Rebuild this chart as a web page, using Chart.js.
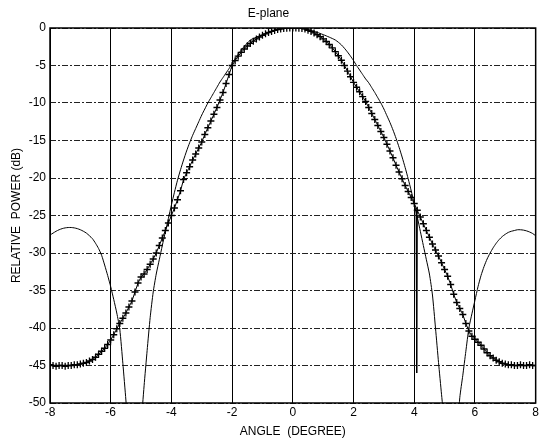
<!DOCTYPE html>
<html>
<head>
<meta charset="utf-8">
<title>E-plane</title>
<script src="https://cdn.jsdelivr.net/npm/chart.js@4.4.1/dist/chart.umd.min.js"></script>
<style>
    html, body {margin: 0; padding: 0; background: #fff;}
    #wrap {width: 541px; height: 441px;}
</style>
</head>
<body>
<div id="wrap"><canvas id="chart" width="541" height="441"></canvas></div>
<script>
const angles = [
    -8.0, -7.9, -7.8, -7.7, -7.6, -7.5, -7.4, -7.3, -7.2, -7.1,
    -7.0, -6.9, -6.8, -6.7, -6.6, -6.5, -6.4, -6.3, -6.2, -6.1,
    -6.0, -5.9, -5.8, -5.7, -5.6, -5.5, -5.4, -5.3, -5.2, -5.1,
    -5.0, -4.9, -4.8, -4.7, -4.6, -4.5, -4.4, -4.3, -4.2, -4.1,
    -4.0, -3.9, -3.8, -3.7, -3.6, -3.5, -3.4, -3.3, -3.2, -3.1,
    -3.0, -2.9, -2.8, -2.7, -2.6, -2.5, -2.4, -2.3, -2.2, -2.1,
    -2.0, -1.9, -1.8, -1.7, -1.6, -1.5, -1.4, -1.3, -1.2, -1.1,
    -1.0, -0.9, -0.8, -0.7, -0.6, -0.5, -0.4, -0.3, -0.2, -0.1,
    0.0,
    0.1, 0.2, 0.3, 0.4, 0.5, 0.6, 0.7, 0.8, 0.9, 1.0,
    1.1, 1.2, 1.3, 1.4, 1.5, 1.6, 1.7, 1.8, 1.9, 2.0,
    2.1, 2.2, 2.3, 2.4, 2.5, 2.6, 2.7, 2.8, 2.9, 3.0,
    3.1, 3.2, 3.3, 3.4, 3.5, 3.6, 3.7, 3.8, 3.9, 4.0,
    4.1, 4.2, 4.3, 4.4, 4.5, 4.6, 4.7, 4.8, 4.9, 5.0,
    5.1, 5.2, 5.3, 5.4, 5.5, 5.6, 5.7, 5.8, 5.9, 6.0,
    6.1, 6.2, 6.3, 6.4, 6.5, 6.6, 6.7, 6.8, 6.9, 7.0,
    7.1, 7.2, 7.3, 7.4, 7.5, 7.6, 7.7, 7.8, 7.9, 8.0
]

// measured pattern (+ markers)
const measuredPower = [
    -44.9, -45.0, -45.1, -45.0, -45.0, -45.1, -45.0, -45.0, -44.9, -44.9,
    -44.8, -44.7, -44.6, -44.4, -44.2, -43.9, -43.5, -43.1, -42.7, -42.2,
    -41.6, -40.9, -40.1, -39.4, -38.7, -38.0, -37.2, -36.4, -35.2, -34.0,
    -33.2, -32.8, -32.2, -31.5, -30.8, -30.0, -29.0, -28.0, -27.0, -26.0,
    -25.0, -24.0, -22.9, -21.7, -20.2, -19.3, -18.5, -17.6, -16.8, -16.0,
    -15.2, -14.2, -13.3, -12.4, -11.5, -10.6, -9.6, -8.6, -7.4, -6.2,
    -5.0, -4.35, -3.75, -3.25, -2.8, -2.4, -2.05, -1.75, -1.45, -1.2,
    -0.97, -0.77, -0.6, -0.45, -0.32, -0.21, -0.12, -0.06, -0.02, 0,
    0,
    0, -0.02, -0.06, -0.12, -0.3, -0.45, -0.65, -0.9, -1.15, -1.45,
    -1.8, -2.2, -2.65, -3.15, -3.7, -4.3, -5.0, -5.75, -6.5, -7.25,
    -7.9, -8.5, -9.15, -9.8, -10.6, -11.4, -12.2, -13.0, -13.8, -14.6,
    -15.5, -16.4, -17.3, -18.3, -19.2, -20.1, -21.0, -21.8, -22.6, -23.4,
    -24.3, -25.2, -26.1, -27.0, -27.9, -28.8, -29.6, -30.4, -31.3, -32.2,
    -33.1, -34.2, -35.5, -36.6, -37.4, -38.2, -39.4, -40.4, -41.1, -41.5,
    -41.9, -42.3, -42.8, -43.3, -43.7, -44.0, -44.3, -44.5, -44.7, -44.8,
    -44.9, -44.9, -45.0, -45.0, -44.9, -45.0, -45.0, -44.9, -45.0, -45.0
]

// computed pattern (solid line), values under -50 fall off the axis
const theoryPower = [
    -27.6, -27.35, -27.1, -26.9, -26.75, -26.65, -26.6, -26.6, -26.65, -26.75,
    -26.9, -27.1, -27.35, -27.7, -28.1, -28.7, -29.4, -30.3, -31.6, -33.0,
    -34.5, -36.2, -38.0, -40.2, -44.7, -49.6, -55, -62, -75, -60,
    -53.0, -47.7, -43.0, -38.6, -35.2, -32.8, -30.9, -29.0, -27.2, -25.4,
    -23.6, -21.9, -20.3, -18.9, -17.6, -16.4, -15.3, -14.3, -13.4, -12.5,
    -11.6, -10.8, -10.0, -9.3, -8.6, -7.9, -7.2, -6.6, -6.0, -5.4,
    -4.75, -4.1, -3.5, -2.95, -2.45, -2.0, -1.6, -1.4, -1.22, -1.05,
    -0.9, -0.75, -0.6, -0.46, -0.34, -0.24, -0.15, -0.08, -0.04, -0.01,
    0,
    -0.01, -0.03, -0.07, -0.13, -0.21, -0.31, -0.43, -0.57, -0.73, -0.88,
    -1.05, -1.22, -1.4, -1.6, -1.9, -2.25, -2.7, -3.2, -3.75, -4.35,
    -5.0, -5.6, -6.2, -6.8, -7.3, -7.95, -8.6, -9.3, -10.0, -10.8,
    -11.7, -12.6, -13.6, -14.7, -15.9, -17.2, -18.6, -20.1, -21.7, -23.4,
    -25.2, -27.1, -29.0, -30.9, -32.8, -35.6, -40.0, -44.6, -48.9, -53.0,
    -58, -75, -62, -55, -49.3, -46.3, -43.1, -40.0, -38.1, -36.3,
    -34.5, -33.0, -31.8, -30.8, -30.0, -29.3, -28.7, -28.2, -27.8, -27.5,
    -27.25, -27.1, -27.0, -26.9, -26.9, -26.95, -27.05, -27.2, -27.4, -27.7
]

// narrow glitch in the solid trace just right of 4 degrees
const spikeAngles = [4.06, 4.08, 4.10]
const spikePower = [-24.3, -46.0, -24.9]

const xTicks = [-8, -6, -4, -2, 0, 2, 4, 6, 8]
const yTicks = [0, -5, -10, -15, -20, -25, -30, -35, -40, -45, -50]

const toPoints = (xs, ys) => xs.map((x, i) => ({x, y: ys[i]}))

const FONT = {family: "'Liberation Sans', Arial, sans-serif", size: 12}

const frame = {
    id: "frame",
    afterDraw(chart){
        const {ctx, chartArea: a} = chart
        ctx.save()
        ctx.strokeStyle = "#000"
        ctx.lineWidth = 1.5
        ctx.strokeRect(a.left, a.top, a.right - a.left, a.bottom - a.top)
        ctx.restore()
    }
}

new Chart(document.getElementById("chart"), {
    type: "scatter",
    data: {
        datasets: [
            {
                data: toPoints(angles, theoryPower),
                showLine: true,
                borderColor: "#000",
                borderWidth: 1,
                pointRadius: 0,
                tension: 0.2
            },
            {
                data: toPoints(spikeAngles, spikePower),
                showLine: true,
                borderColor: "#000",
                borderWidth: 1,
                pointRadius: 0
            },
            {
                data: toPoints(angles, measuredPower),
                showLine: true,
                borderColor: "#000",
                borderWidth: 1,
                pointStyle: "cross",
                pointRadius: 3.5,
                pointBorderWidth: 1.3,
                pointBorderColor: "#000"
            }
        ]
    },
    options: {
        responsive: false,
        animation: false,
        devicePixelRatio: 1,
        layout: {padding: {left: 0, right: 4, top: 0, bottom: 0}},
        plugins: {
            legend: {display: false},
            tooltip: {enabled: false},
            title: {
                display: true,
                text: "E-plane",
                color: "#000",
                font: {...FONT, weight: "normal"},
                padding: {top: 6, bottom: 7.6}
            }
        },
        scales: {
            x: {
                type: "linear",
                min: -8,
                max: 8,
                afterBuildTicks: s => { s.ticks = xTicks.map(v => ({value: v})) },
                afterFit: s => { s.height = 38 },
                ticks: {color: "#000", font: FONT, padding: 2},
                grid: {color: "#000", lineWidth: 1, drawTicks: false},
                border: {display: false},
                title: {
                    display: true,
                    text: "ANGLE  (DEGREE)",
                    color: "#000",
                    font: FONT,
                    padding: {top: 0, bottom: 2}
                }
            },
            y: {
                type: "linear",
                min: -50,
                max: 0,
                afterBuildTicks: s => { s.ticks = yTicks.map(v => ({value: v})) },
                afterFit: s => { s.width = 50 },
                ticks: {color: "#000", font: FONT, padding: 4},
                grid: {color: "#222", lineWidth: 1, drawTicks: false},
                border: {display: false, dash: [6, 2, 2, 2]},
                title: {
                    display: true,
                    text: "RELATIVE  POWER (dB)",
                    color: "#000",
                    font: FONT,
                    padding: {top: 9, bottom: 0}
                }
            }
        }
    },
    plugins: [frame]
})
</script>
</body>
</html>
